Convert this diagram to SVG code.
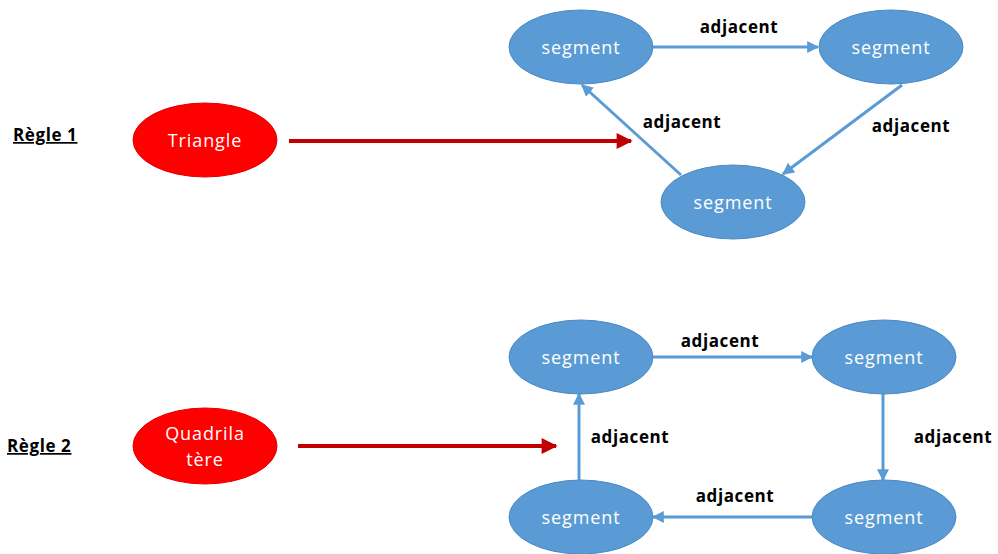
<svg xmlns="http://www.w3.org/2000/svg" width="998" height="554" viewBox="0 0 998 554">
<style>
.seg{fill:#5B9BD5;stroke:#4A89C4;stroke-width:1}
.red{fill:#FF0000;stroke:#E00000;stroke-width:1}
.nt{font-family:"Open Sans","Liberation Sans",sans-serif;font-size:18px;fill:#ffffff;text-anchor:middle;letter-spacing:0.9px}
.lbl{font-family:"Open Sans","Liberation Sans",sans-serif;font-size:17px;font-weight:bold;fill:#000;text-anchor:middle;letter-spacing:0.6px}
.rule{font-family:"Open Sans","Liberation Sans",sans-serif;font-size:17px;font-weight:bold;fill:#000;text-decoration:underline;letter-spacing:0.6px}
.bl{stroke:#5B9BD5;stroke-width:3;fill:none;marker-end:url(#ab)}
.rd{stroke:#C00000;stroke-width:4;fill:none;marker-end:url(#ar)}
</style>
<defs>
<marker id="ab" viewBox="0 0 10 10" refX="9" refY="5" markerWidth="4" markerHeight="4" orient="auto" markerUnits="strokeWidth">
<path d="M0,0 L10,5 L0,10 z" fill="#5B9BD5"/>
</marker>
<marker id="ar" viewBox="0 0 10 10" refX="9" refY="5" markerWidth="4.5" markerHeight="4" orient="auto" markerUnits="strokeWidth">
<path d="M0,0 L10,5 L0,10 z" fill="#C00000"/>
</marker>
</defs>
<g id="rule1"><text class="rule" x="13" y="141">Règle 1</text></g>
<g id="rule2"><text class="rule" x="7" y="452">Règle 2</text></g>
<g id="connectors">
<line class="rd" x1="289" y1="141" x2="631" y2="141"/>
<line class="bl" x1="653" y1="47" x2="818" y2="47"/>
<line class="bl" x1="902" y1="85" x2="783" y2="174"/>
<line class="bl" x1="681" y1="175" x2="582" y2="85"/>
<line class="rd" x1="298" y1="446" x2="556" y2="446"/>
<line class="bl" x1="653" y1="357" x2="812" y2="357"/>
<line class="bl" x1="883" y1="394" x2="883" y2="480"/>
<line class="bl" x1="812" y1="517" x2="653" y2="517"/>
<line class="bl" x1="579" y1="480" x2="579" y2="394"/>
<text class="lbl" x="739" y="33">adjacent</text>
<text class="lbl" x="682" y="128">adjacent</text>
<text class="lbl" x="911" y="132">adjacent</text>
<text class="lbl" x="720" y="347">adjacent</text>
<text class="lbl" x="953" y="443">adjacent</text>
<text class="lbl" x="630" y="443">adjacent</text>
<text class="lbl" x="735" y="502">adjacent</text>
</g>
<g id="triangle"><ellipse class="red" cx="205" cy="140" rx="72" ry="37"/><text class="nt" x="205" y="147">Triangle</text></g>
<g id="quad"><ellipse class="red" cx="205" cy="446" rx="72" ry="38"/><text class="nt" x="205" y="440">Quadrila</text><text class="nt" x="205" y="466">tère</text></g>
<g id="segA"><ellipse class="seg" cx="581" cy="47" rx="72" ry="37"/><text class="nt" x="581" y="54">segment</text></g>
<g id="segB"><ellipse class="seg" cx="891" cy="47" rx="72" ry="37"/><text class="nt" x="891" y="54">segment</text></g>
<g id="segC"><ellipse class="seg" cx="733" cy="202" rx="72" ry="37"/><text class="nt" x="733" y="209">segment</text></g>
<g id="segD"><ellipse class="seg" cx="581" cy="357" rx="72" ry="37"/><text class="nt" x="581" y="364">segment</text></g>
<g id="segE"><ellipse class="seg" cx="884" cy="357" rx="72" ry="37"/><text class="nt" x="884" y="364">segment</text></g>
<g id="segF"><ellipse class="seg" cx="884" cy="517" rx="72" ry="37"/><text class="nt" x="884" y="524">segment</text></g>
<g id="segG"><ellipse class="seg" cx="581" cy="517" rx="72" ry="37"/><text class="nt" x="581" y="524">segment</text></g>
</svg>
